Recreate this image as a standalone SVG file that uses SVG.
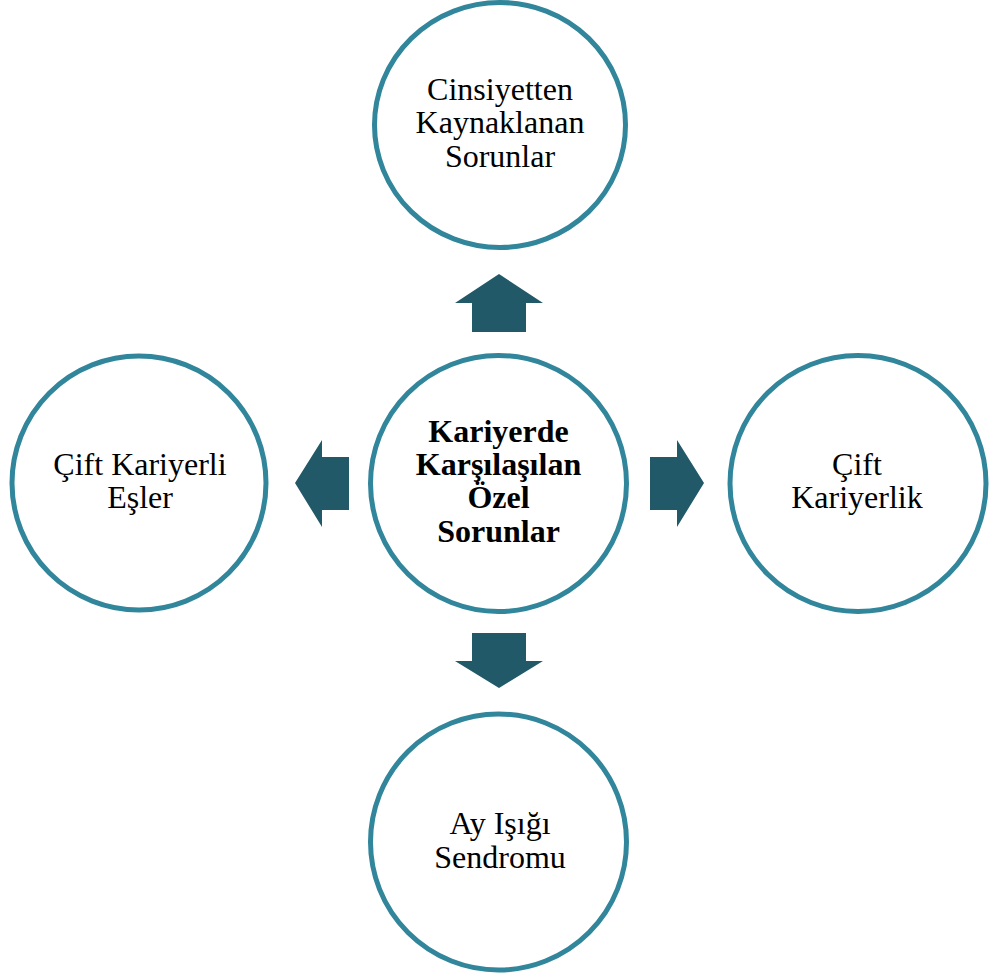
<svg xmlns="http://www.w3.org/2000/svg" width="998" height="978" viewBox="0 0 998 978">
<style>
.node{fill:#ffffff;stroke:#31869b;stroke-width:5}
.arrow{fill:#215968}
.t{font-family:"Liberation Serif","Times New Roman",serif;font-size:32px;fill:#000000;text-anchor:middle}
.b{font-weight:bold}
</style>
<rect width="998" height="978" fill="#ffffff"/>
<g id="connectors">
<polygon class="arrow" points="499,274 543,303 526,303 526,332 472,332 472,303 455,303"/>
<polygon class="arrow" points="499,688 543,661 526,661 526,633 472,633 472,661 455,661"/>
<polygon class="arrow" points="295,483 322,440 322,457 349,457 349,510 322,510 322,527"/>
<polygon class="arrow" points="704,483 677,440 677,457 650,457 650,510 677,510 677,527"/>
</g>
<g id="node-top">
<ellipse class="node" cx="500" cy="125" rx="125.5" ry="122.5"/>
<text class="t" x="500" y="100">Cinsiyetten</text>
<text class="t" x="500" y="133">Kaynaklanan</text>
<text class="t" x="500" y="167">Sorunlar</text>
</g>
<g id="node-center">
<circle class="node" cx="498.5" cy="483.5" r="128"/>
<text class="t b" x="498.5" y="442">Kariyerde</text>
<text class="t b" x="498.5" y="475">Karşılaşılan</text>
<text class="t b" x="498.5" y="508">Özel</text>
<text class="t b" x="498.5" y="542">Sorunlar</text>
</g>
<g id="node-left">
<circle class="node" cx="139" cy="483" r="127"/>
<text class="t" x="140" y="475">Çift Kariyerli</text>
<text class="t" x="140" y="508">Eşler</text>
</g>
<g id="node-right">
<circle class="node" cx="858" cy="483.5" r="128"/>
<text class="t" x="857" y="475">Çift</text>
<text class="t" x="857" y="508">Kariyerlik</text>
</g>
<g id="node-bottom">
<circle class="node" cx="498.5" cy="842" r="128"/>
<text class="t" x="500" y="834">Ay Işığı</text>
<text class="t" x="500" y="868">Sendromu</text>
</g>
</svg>
